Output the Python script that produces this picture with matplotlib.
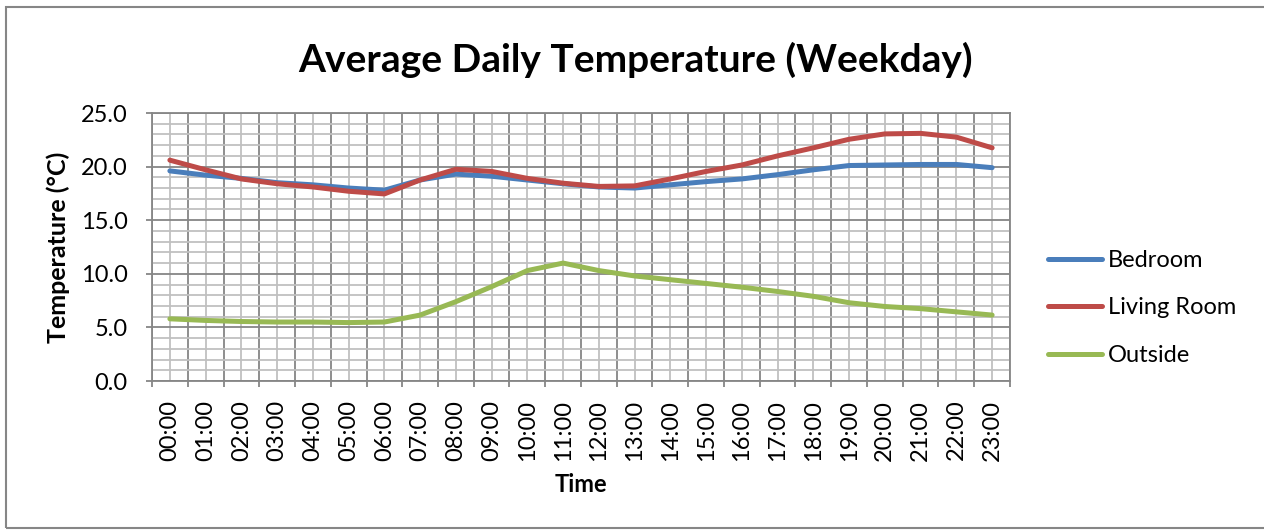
import matplotlib.pyplot as plt
from matplotlib.patches import Rectangle
from matplotlib.ticker import MultipleLocator, FixedLocator

# data
hours = ['%02d:00' % h for h in range(24)]
bedroom = [19.6, 19.2, 18.9, 18.5, 18.3, 18.0, 17.8, 18.75, 19.3, 19.1, 18.75, 18.4,
           18.1, 18.0, 18.3, 18.6, 18.85, 19.25, 19.7, 20.1, 20.15, 20.2, 20.2, 19.9]
living_room = [20.6, 19.7, 18.85, 18.4, 18.1, 17.7, 17.45, 18.75, 19.75, 19.55, 18.9, 18.45,
               18.15, 18.2, 18.85, 19.55, 20.15, 21.0, 21.75, 22.55, 23.05, 23.1, 22.75, 21.75]
outside = [5.8, 5.65, 5.55, 5.5, 5.5, 5.45, 5.5, 6.15, 7.4, 8.8, 10.3, 11.0,
           10.3, 9.8, 9.45, 9.1, 8.75, 8.35, 7.9, 7.3, 6.95, 6.75, 6.45, 6.15]
yticks = [0, 5, 10, 15, 20, 25]

plt.rcParams['font.family'] = ['Lato', 'DejaVu Sans']

W, H = 1264, 531
fig = plt.figure(figsize=(W / 100, H / 100), dpi=100)
ax = fig.add_axes([152 / W, 1 - 381 / H, (1010 - 152) / W, (381 - 113) / H])

major_c = '#868686'
minor_c = '#c0c0c0'
fs = 17

x = list(range(len(hours)))
ax.plot(x, bedroom, color='#4a7ebb', lw=3.6, label='Bedroom', solid_capstyle='round', zorder=3)
ax.plot(x, living_room, color='#be4b48', lw=3.6, label='Living Room', solid_capstyle='round', zorder=3)
ax.plot(x, outside, color='#98b954', lw=3.6, label='Outside', solid_capstyle='round', zorder=3)

ax.set_xlim(-0.5, len(hours) - 0.5)
ax.set_ylim(0, 25)

# category boundaries are the major ticks, labels sit on the minor ticks
ax.xaxis.set_major_locator(FixedLocator([i - 0.5 for i in range(len(hours) + 1)]))
ax.set_xticklabels([], minor=False)
ax.set_xticks(x, hours, minor=True, rotation=90, fontsize=fs)
ax.tick_params(axis='x', which='major', length=4.5, width=1.3, color=major_c)
ax.tick_params(axis='x', which='minor', length=0, pad=13.5)

ax.yaxis.set_minor_locator(MultipleLocator(1))
ax.set_yticks(yticks, ['%.1f' % v for v in yticks], fontsize=fs)
ax.tick_params(axis='y', which='major', length=4.5, width=1.3, color=major_c, pad=13)
ax.tick_params(axis='y', which='minor', length=0)

ax.grid(True, which='major', color=major_c, lw=1.3, zorder=1)
ax.grid(True, which='minor', color=minor_c, lw=1.3, zorder=0)
ax.set_axisbelow(True)
for s in ax.spines.values():
    s.set_color(major_c)
    s.set_linewidth(1.3)

ax.set_xlabel('Time', fontsize=fs, fontweight='bold')
ax.xaxis.set_label_coords(0.5, (381 - 473) / 268)
ax.set_ylabel('Temperature (°C)', fontsize=fs + 1, fontweight='bold', va='center')
ax.yaxis.set_label_coords((58 - 152) / 858, 0.5)

fig.text(636 / W, 1 - 60 / H, 'Average Daily Temperature (Weekday)', fontsize=28,
         fontweight='bold', ha='center', va='center')

ax.legend(loc='center left', bbox_to_anchor=(1048 / W, 1 - 308 / H),
          bbox_transform=fig.transFigure, frameon=False, fontsize=fs,
          borderaxespad=0, borderpad=0,
          handlelength=2.3, handletextpad=0.25, labelspacing=1.12)

# outer chart border
fig.patches.append(Rectangle((6 / W, 1 - 528 / H), 1.0, (528 - 7) / H,
                             transform=fig.transFigure, fill=False,
                             edgecolor='#868686', lw=1.5))

fig.savefig('out.png', dpi=100)
